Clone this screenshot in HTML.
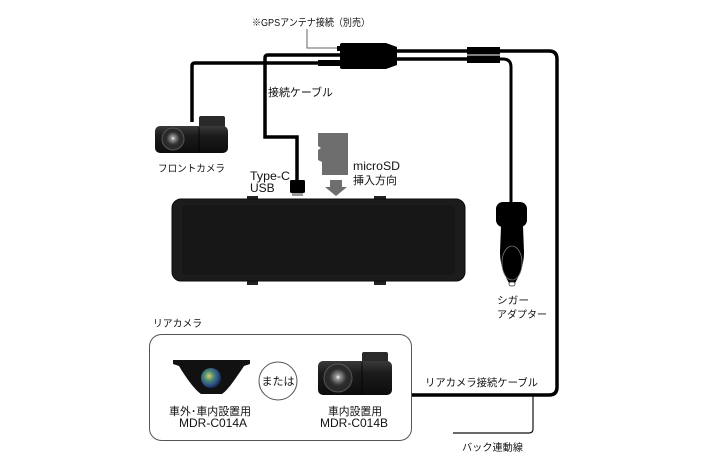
<!DOCTYPE html>
<html><head><meta charset="utf-8"><style>
html,body{margin:0;padding:0;background:#fff;}
svg{display:block;}
text{font-family:"Liberation Sans","Noto Sans CJK JP",sans-serif;fill:#111;}
</style></head><body>
<svg width="710" height="474" viewBox="0 0 710 474" xmlns="http://www.w3.org/2000/svg">
<defs>
<linearGradient id="cam" x1="0" y1="0" x2="0" y2="1">
<stop offset="0" stop-color="#3a3a3a"/><stop offset="0.35" stop-color="#1c1c1c"/><stop offset="1" stop-color="#0c0c0c"/>
</linearGradient>
<radialGradient id="ball" cx="0.4" cy="0.4" r="0.6">
<stop offset="0" stop-color="#d8d070"/><stop offset="0.4" stop-color="#4a8a70"/><stop offset="0.8" stop-color="#2a4a8a"/><stop offset="1" stop-color="#1a2a4a"/>
</radialGradient>
<radialGradient id="lens" cx="0.5" cy="0.45" r="0.6">
<stop offset="0" stop-color="#ffffff"/><stop offset="0.2" stop-color="#999"/><stop offset="0.7" stop-color="#3a3a3a"/><stop offset="1" stop-color="#222"/>
</radialGradient>
</defs>

<!-- GPS label and gray line -->
<text x="252" y="26" font-size="10" textLength="118" lengthAdjust="spacingAndGlyphs">※GPSアンテナ接続（別売）</text>
<polyline points="307,29 307,48 340,48" fill="none" stroke="#666" stroke-width="1"/>

<!-- connection cable (to Type-C) -->
<path d="M340,55 L268,55 Q265,55 265,58 L265,137 L297,137 L297,182" fill="none" stroke="#000" stroke-width="3.5"/>
<!-- front camera cable -->
<path d="M320,63 L195,63 Q192,63 192,66 L192,122" fill="none" stroke="#000" stroke-width="3.5"/>
<rect x="318" y="60" width="19" height="6" fill="#000"/>

<!-- splitter -->
<path d="M342,43 L386,43 L397,47 L397,65 L386,69 L342,69 Q340,69 340,67 L340,45 Q340,43 342,43 Z" fill="#000"/>
<rect x="337" y="46" width="4" height="5" fill="#000"/>
<rect x="337" y="60" width="4" height="6" fill="#000"/>

<!-- right cables -->
<line x1="396" y1="51" x2="468" y2="51" stroke="#000" stroke-width="3.5"/>
<line x1="396" y1="59" x2="468" y2="59" stroke="#000" stroke-width="3.5"/>
<rect x="467" y="47" width="33" height="7.5" fill="#000"/>
<rect x="467" y="55.5" width="33" height="7.5" fill="#000"/>
<path d="M499,51 L549,51 Q557,51 557,59 L557,387 Q557,395 549,395 L411,395" fill="none" stroke="#000" stroke-width="3.5"/>
<path d="M499,59 L503,59 Q511,59 511,67 L511,204" fill="none" stroke="#000" stroke-width="3"/>

<!-- back signal line -->
<path d="M533,395 L533,429 Q533,433 529,433 L453,433" fill="none" stroke="#111" stroke-width="1.2"/>

<!-- labels -->
<text x="268" y="96" font-size="11" textLength="65" lengthAdjust="spacingAndGlyphs">接続ケーブル</text>

<!-- front camera -->
<rect x="199" y="116" width="26" height="12" rx="2" fill="#2a2a2a"/>
<rect x="155" y="126" width="73" height="27" rx="5" fill="url(#cam)"/>
<line x1="199" y1="127" x2="199" y2="153" stroke="#000" stroke-width="0.8"/>
<circle cx="173" cy="139" r="11" fill="#2a2a2a" stroke="#555" stroke-width="1"/>
<circle cx="173" cy="139" r="7" fill="url(#lens)"/>
<text x="158" y="172" font-size="10" textLength="67" lengthAdjust="spacingAndGlyphs">フロントカメラ</text>

<!-- Type-C -->
<text x="250" y="180" font-size="12" textLength="40" lengthAdjust="spacingAndGlyphs">Type-C</text>
<text x="250" y="192" font-size="12">USB</text>
<rect x="290" y="180" width="15" height="13" rx="1.5" fill="#000"/>
<rect x="292" y="193" width="11" height="3" fill="#999"/>

<!-- microSD -->
<path d="M318,133 L348,133 L348,175 L322,175 L322,162 L318,160 L318,150 L321,148 L318,146 Z" fill="#6e6e6e"/>
<path d="M330,180 L342,180 L342,187 L347,187 L336,196 L325,187 L330,187 Z" fill="#6e6e6e"/>
<text x="353" y="170" font-size="12" textLength="47" lengthAdjust="spacingAndGlyphs">microSD</text>
<text x="353" y="184" font-size="11" textLength="44" lengthAdjust="spacingAndGlyphs">挿入方向</text>

<!-- mirror -->
<rect x="247" y="196" width="11" height="4" fill="#222"/>
<rect x="374" y="196" width="12" height="4" fill="#222"/>
<rect x="247" y="280" width="11" height="5" fill="#222"/>
<rect x="374" y="280" width="12" height="5" fill="#222"/>
<rect x="172" y="199" width="293" height="82" rx="9" fill="#1c1c1c" stroke="#0a0a0a" stroke-width="1"/>
<rect x="182" y="205" width="273" height="70" rx="3" fill="#171717"/>

<!-- cigar adapter -->
<rect x="496" y="202" width="31" height="25" rx="7" fill="#000"/>
<path d="M501,226 L523,226 L524,252 C524,267 518,278 515,283 L509,283 C506,278 500,267 500,252 Z" fill="#000"/>
<ellipse cx="512" cy="263" rx="10" ry="17" fill="none" stroke="#777" stroke-width="0.8"/>
<rect x="509" y="282" width="6" height="4" rx="2" fill="#fff" stroke="#333" stroke-width="0.8"/>
<text x="497" y="304" font-size="10" textLength="32" lengthAdjust="spacingAndGlyphs">シガー</text>
<text x="497" y="318" font-size="10" textLength="50" lengthAdjust="spacingAndGlyphs">アダプター</text>

<!-- rear camera box -->
<text x="153" y="327" font-size="10" textLength="49" lengthAdjust="spacingAndGlyphs">リアカメラ</text>
<rect x="149.5" y="334.5" width="262" height="106" rx="12" fill="#fff" stroke="#555" stroke-width="1"/>

<!-- camera A -->
<path d="M173,360 L250,360 L250,364 L244,366 C236,378 228,390 222,394 L201,394 C195,390 186,378 179,366 L173,364 Z" fill="#111"/>
<circle cx="211" cy="378" r="10" fill="url(#ball)"/>
<text x="210" y="415" font-size="11" text-anchor="middle" textLength="82" lengthAdjust="spacingAndGlyphs">車外･車内設置用</text>
<text x="213" y="427" font-size="12" text-anchor="middle" textLength="68" lengthAdjust="spacingAndGlyphs">MDR-C014A</text>

<!-- または -->
<circle cx="278" cy="381" r="19" fill="#fff" stroke="#555" stroke-width="1"/>
<text x="278" y="385" font-size="11" text-anchor="middle">または</text>

<!-- camera B -->
<rect x="362" y="352" width="26" height="12" rx="2" fill="#2a2a2a"/>
<rect x="318" y="361" width="74" height="34" rx="5" fill="url(#cam)"/>
<line x1="362" y1="362" x2="362" y2="395" stroke="#000" stroke-width="0.8"/>
<circle cx="338" cy="378" r="14" fill="#2a2a2a" stroke="#555" stroke-width="1"/>
<circle cx="338" cy="378" r="9" fill="url(#lens)"/>
<text x="355" y="415" font-size="11" text-anchor="middle" textLength="54" lengthAdjust="spacingAndGlyphs">車内設置用</text>
<text x="354" y="427" font-size="12" text-anchor="middle" textLength="68" lengthAdjust="spacingAndGlyphs">MDR-C014B</text>

<!-- rear cable labels -->
<text x="425" y="386" font-size="10.5" textLength="113" lengthAdjust="spacingAndGlyphs">リアカメラ接続ケーブル</text>
<text x="462" y="451" font-size="10" textLength="61" lengthAdjust="spacingAndGlyphs">バック連動線</text>
</svg>
</body></html>
